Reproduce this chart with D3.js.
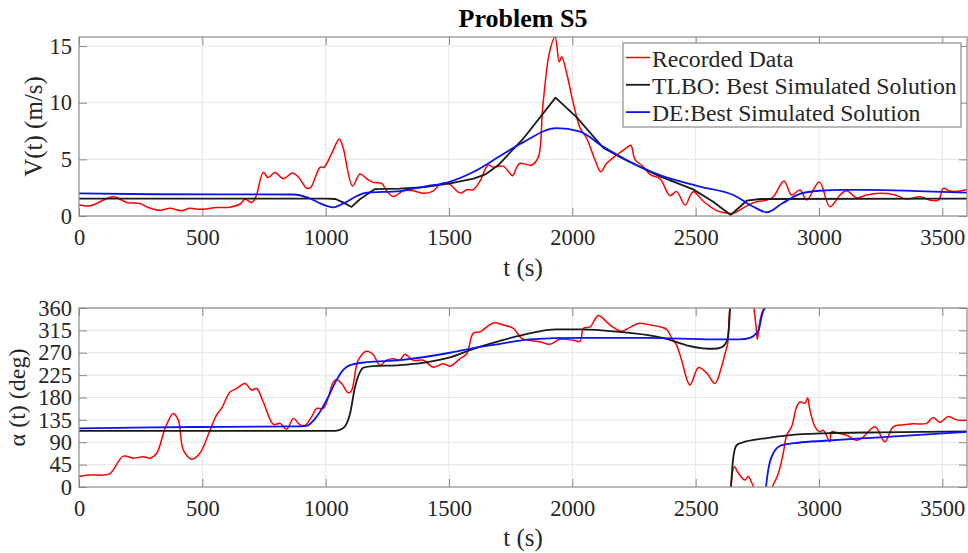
<!DOCTYPE html>
<html>
<head>
<meta charset="utf-8">
<script src="https://cdn.jsdelivr.net/npm/d3@7"></script>
<style>
  body { margin: 0; background: #fff; }
  text { font-family: "Liberation Serif", "Times New Roman", serif; fill: #262626; }
</style>
</head>
<body>
<div id="chart"></div>
<script>
// ---- data ----
var xTicks = [0, 500, 1000, 1500, 2000, 2500, 3000, 3500];
var vTicks = [0, 5, 10, 15];
var aTicks = [0, 45, 90, 135, 180, 225, 270, 315, 360];
var legendNames = ["Recorded Data", "TLBO: Best Simulated Solution", "DE:Best Simulated Solution"];

// V(t) recorded
var tRecV = [0,45,139,193,247,274,328,369,416,450,490,558,612,653,673,700,717,747,767,795,828,866,889,923,939,977,993,1024,1055,1071,1109,1139,1166,1193,1227,1247,1274,1315,1355,1396,1436,1463,1497,1545,1572,1598,1626,1659,1680,1720,1758,1774,1788,1835,1862,1880,1907,1930,1947,1957,1977,2004,2031,2058,2092,2115,2139,2180,2217,2237,2254,2288,2318,2355,2396,2423,2457,2490,2531,2585,2612,2653,2707,2747,2788,2815,2858,2889,2923,2950,3001,3044,3085,3112,3153,3193,3247,3301,3355,3409,3450,3484,3504,3531,3571,3600];
var vRec  = [1.0,0.9,1.7,1.2,1.1,0.82,0.5,0.68,0.47,0.68,0.59,0.74,0.77,1.06,1.47,1.2,1.7,3.85,3.4,3.85,3.3,3.8,3.45,2.45,2.5,4.3,4.3,5.5,6.8,6.0,2.65,3.7,3.3,2.97,2.88,2.23,1.72,2.23,2.23,2.0,2.2,2.8,2.88,2.03,2.32,2.32,3.1,4.5,4.3,4.4,3.56,4.3,4.65,4.5,5.2,9.6,14.4,15.8,13.6,14.06,12.6,9.95,7.8,6.86,4.94,3.9,4.65,5.4,5.97,6.25,5.0,4.35,3.62,3.3,1.8,2.15,0.97,2.15,1.3,0.47,0.3,0.24,0.9,1.26,1.4,1.7,3.1,1.85,2.3,1.41,3.0,0.82,1.85,2.23,1.6,1.85,2.0,1.9,1.5,1.7,1.4,1.4,2.44,2.2,2.2,2.35];

// V(t) TLBO
var tTlboV = [0,1000,1040,1070,1105,1140,1200,1300,1400,1500,1600,1650,1700,1800,1932,2018,2126,2220,2355,2490,2571,2642,2707,2761,3600];
var vTlbo  = [1.53,1.53,1.5,1.2,0.8,1.5,2.38,2.42,2.55,2.85,3.3,3.7,4.5,6.8,10.45,8.7,6.0,4.9,3.5,2.35,1.26,0.09,1.35,1.5,1.53];

// V(t) DE
var tDeV = [0,300,870,930,980,1031,1080,1130,1166,1300,1400,1500,1600,1700,1800,1935,2031,2126,2220,2355,2517,2653,2734,2788,2850,2923,3001,3100,3200,3400,3600];
var vDe  = [2.0,1.92,1.9,1.6,1.1,0.77,1.2,1.8,2.06,2.2,2.6,3.0,3.9,5.2,6.5,7.75,7.45,6.1,4.94,3.6,2.6,1.85,0.82,0.33,1.1,1.95,2.23,2.3,2.3,2.2,2.06];

// alpha(t) recorded (wraps at 360)
var tRecA = [0,38,92,126,180,220,261,288,315,349,382,403,423,457,490,531,558,578,612,639,673,700,720,747,788,815,842,869,896,916,943,963,990,1011,1031,1044,1065,1092,1105,1132,1166,1193,1220,1247,1274,1301,1321,1355,1396,1436,1477,1504,1545,1572,1598,1626,1680,1720,1761,1795,1869,1909,1950,2004,2031,2045,2072,2105,2139,2166,2200,2234,2267,2315,2382,2403,2423,2443,2477,2511,2545,2578,2605,2619,2630,2635,2639,2643,2657,2673,2700,2713,2728,2735,2736,2745,2750,2757,2764,2772,2780,2810,2835,2855,2869,2889,2909,2923,2943,2954,2963,2984,3004,3017,3044,3051,3078,3112,3153,3180,3227,3267,3301,3342,3382,3436,3463,3490,3524,3558,3600];
var aRec  = [21,24,24,27,62,58,61,58,68,118,148,134,74,56,68,114,145,158,191,198,208,195,198,171,126,128,116,138,125,124,141,158,158,181,211,216,208,189,194,255,273,266,245,255,258,255,267,255,255,241,248,243,258,268,309,312,330,326,319,299,292,287,297,295,293,319,322,345,332,321,313,321,329,326,317,299,285,255,205,240,229,208,242,268,289,335,360,0,41,28,14,21,8,0,360,322,297,322,342,355,360,0,27,68,104,121,161,171,169,179,155,121,111,114,91,111,108,104,94,101,121,91,121,125,127,128,140,130,142,135,134];

// alpha(t) TLBO
var tTlboA = [0,1040,1070,1099,1119,1140,1153,1193,1300,1400,1500,1600,1707,1800,1936,2031,2193,2300,2382,2463,2530,2571,2605,2619,2630,2636,2639,2643,2653,2666,2687,2782,2876,3024,3247,3600];
var aTlbo  = [113,113,118,148,201,232,240,243,245,250,260,278,294,306,317,317,312,306,298,285,279,278,281,287,300,330,360,0,61,84,89,98,104,108,110,112];

// alpha(t) DE
var tDeA = [0,300,600,900,923,963,1004,1044,1070,1099,1166,1301,1504,1626,1707,1828,2031,2301,2571,2680,2720,2748,2757,2766,2775,2784,2785,2794,2815,2849,2916,3024,3247,3600];
var aDe  = [118,120,121,122,123,141,175,215,235,245,251,255,270,282,288,297,300,300,297,297,300,310,318,340,355,360,0,34,68,84,89,93,100,111];

// ---- layout ----
var width = 968, height = 553;
var plotLeft = 79, plotRight = 967;
var topPanel = {top: 37, bottom: 216};
var botPanel = {top: 308, bottom: 487};
var tickLen = 8;
var boxColor = "#8a8a8a", gridColor = "#e6e6e6";
var serif = '"Liberation Serif", "Times New Roman", serif';

var svg = d3.select("#chart")
  .append("svg")
    .attr("width", width)
    .attr("height", height);

var x = d3.scaleLinear().domain([0, 3600]).range([plotLeft, plotRight]);
var yV = d3.scaleLinear().domain([0, 15.8]).range([topPanel.bottom, topPanel.top]);
var yA = d3.scaleLinear().domain([0, 360]).range([botPanel.bottom, botPanel.top]);

function zip(ts, vs) {
  return ts.map(function (t, i) { return {t: t, v: vs[i]}; });
}

// split wrapped angle series where the value jumps across the 0/360 seam
function splitWrap(pts) {
  var segs = [[pts[0]]];
  for (var i = 1; i < pts.length; i++) {
    if (Math.abs(pts[i].v - pts[i - 1].v) > 180) segs.push([]);
    segs[segs.length - 1].push(pts[i]);
  }
  return segs;
}

function drawPanel(id, panel, y, yTicks, series) {
  var g = svg.append("g");

  g.append("clipPath").attr("id", id)
    .append("rect")
      .attr("x", plotLeft).attr("y", panel.top)
      .attr("width", plotRight - plotLeft).attr("height", panel.bottom - panel.top);

  // grid
  g.append("g").selectAll("line").data(xTicks.slice(1)).enter().append("line")
    .attr("x1", function (d) { return x(d); }).attr("x2", function (d) { return x(d); })
    .attr("y1", panel.top).attr("y2", panel.bottom)
    .style("stroke", gridColor).style("stroke-width", 1);
  g.append("g").selectAll("line").data(yTicks.slice(1)).enter().append("line")
    .attr("x1", plotLeft).attr("x2", plotRight)
    .attr("y1", function (d) { return y(d); }).attr("y2", function (d) { return y(d); })
    .style("stroke", gridColor).style("stroke-width", 1);

  // axes, ticks pointing inward
  var bottomAxis = g.append("g")
    .attr("transform", "translate(0," + panel.bottom + ")")
    .call(d3.axisBottom(x).tickValues(xTicks).tickSize(-tickLen).tickPadding(13).tickFormat(d3.format("d")));
  var topAxis = g.append("g")
    .attr("transform", "translate(0," + panel.top + ")")
    .call(d3.axisTop(x).tickValues(xTicks).tickSize(-tickLen).tickFormat(""));
  var leftAxis = g.append("g")
    .attr("transform", "translate(" + plotLeft + ",0)")
    .call(d3.axisLeft(y).tickValues(yTicks).tickSize(-tickLen).tickPadding(7).tickFormat(d3.format("d")));
  var rightAxis = g.append("g")
    .attr("transform", "translate(" + plotRight + ",0)")
    .call(d3.axisRight(y).tickValues(yTicks).tickSize(-tickLen).tickFormat(""));

  [bottomAxis, topAxis, leftAxis, rightAxis].forEach(function (a) {
    a.attr("font-family", serif).attr("font-size", 22.5);
    a.select(".domain").remove();
    a.selectAll(".tick line").style("stroke", boxColor);
    a.selectAll(".tick text")
      .style("font-family", serif)
      .style("font-size", "22.5px")
      .style("fill", "#262626");
  });

  // data lines
  var lines = g.append("g").attr("clip-path", "url(#" + id + ")");
  series.forEach(function (s) {
    var line = d3.line()
      .curve(s.curve)
      .x(function (d) { return x(d.t); })
      .y(function (d) { return y(d.v); });
    s.segs.forEach(function (seg) {
      lines.append("path")
        .datum(seg)
        .attr("d", line)
        .style("fill", "none")
        .style("stroke", s.color)
        .style("stroke-width", s.w)
        .style("stroke-linejoin", "round");
    });
  });

  // box
  g.append("rect")
    .attr("x", plotLeft).attr("y", panel.top)
    .attr("width", plotRight - plotLeft).attr("height", panel.bottom - panel.top)
    .style("fill", "none").style("stroke", boxColor).style("stroke-width", 1.2);

  return g;
}

var colRec = "#ff0000", colTlbo = "#1a1a1a", colDe = "#0a14f0";

drawPanel("clipTop", topPanel, yV, vTicks, [
  {segs: [zip(tRecV, vRec)], color: colRec, w: 1.5, curve: d3.curveCatmullRom.alpha(0.5)},
  {segs: [zip(tTlboV, vTlbo)], color: colTlbo, w: 1.8, curve: d3.curveLinear},
  {segs: [zip(tDeV, vDe)], color: colDe, w: 1.8, curve: d3.curveMonotoneX}
]);

drawPanel("clipBot", botPanel, yA, aTicks, [
  {segs: splitWrap(zip(tRecA, aRec)), color: colRec, w: 1.5, curve: d3.curveCatmullRom.alpha(0.5)},
  {segs: splitWrap(zip(tTlboA, aTlbo)), color: colTlbo, w: 1.8, curve: d3.curveMonotoneX},
  {segs: splitWrap(zip(tDeA, aDe)), color: colDe, w: 1.8, curve: d3.curveMonotoneX}
]);

// title and axis labels
svg.append("text")
  .attr("x", (plotLeft + plotRight) / 2).attr("y", 27)
  .attr("text-anchor", "middle")
  .style("font-size", "26px").style("font-weight", "bold").style("fill", "#000")
  .text("Problem S5");

svg.append("text")
  .attr("x", (plotLeft + plotRight) / 2).attr("y", 275.5)
  .attr("text-anchor", "middle").style("font-size", "25px")
  .text("t (s)");
svg.append("text")
  .attr("x", (plotLeft + plotRight) / 2).attr("y", 545.5)
  .attr("text-anchor", "middle").style("font-size", "25px")
  .text("t (s)");

svg.append("text")
  .attr("transform", "translate(41.5," + (topPanel.top + topPanel.bottom) / 2 + ") rotate(-90)")
  .attr("text-anchor", "middle").style("font-size", "25px")
  .text("V(t) (m/s)");
svg.append("text")
  .attr("transform", "translate(25," + (botPanel.top + botPanel.bottom) / 2 + ") rotate(-90)")
  .attr("text-anchor", "middle").style("font-size", "24px")
  .text("α (t) (deg)");

// legend
var legend = svg.append("g");
legend.append("rect")
  .attr("x", 623).attr("y", 43).attr("width", 338).attr("height", 84)
  .style("fill", "#fff").style("stroke", boxColor).style("stroke-width", 1.2);
var legendColors = [colRec, colTlbo, colDe];
legendNames.forEach(function (name, i) {
  var cy = 57.5 + i * 27.3;
  legend.append("line")
    .attr("x1", 626).attr("x2", 650).attr("y1", cy).attr("y2", cy)
    .style("stroke", legendColors[i]).style("stroke-width", i === 0 ? 1.5 : 1.8);
  legend.append("text")
    .attr("x", 652).attr("y", cy + 9.2)
    .style("font-size", "23.7px")
    .text(name);
});
</script>
</body>
</html>
